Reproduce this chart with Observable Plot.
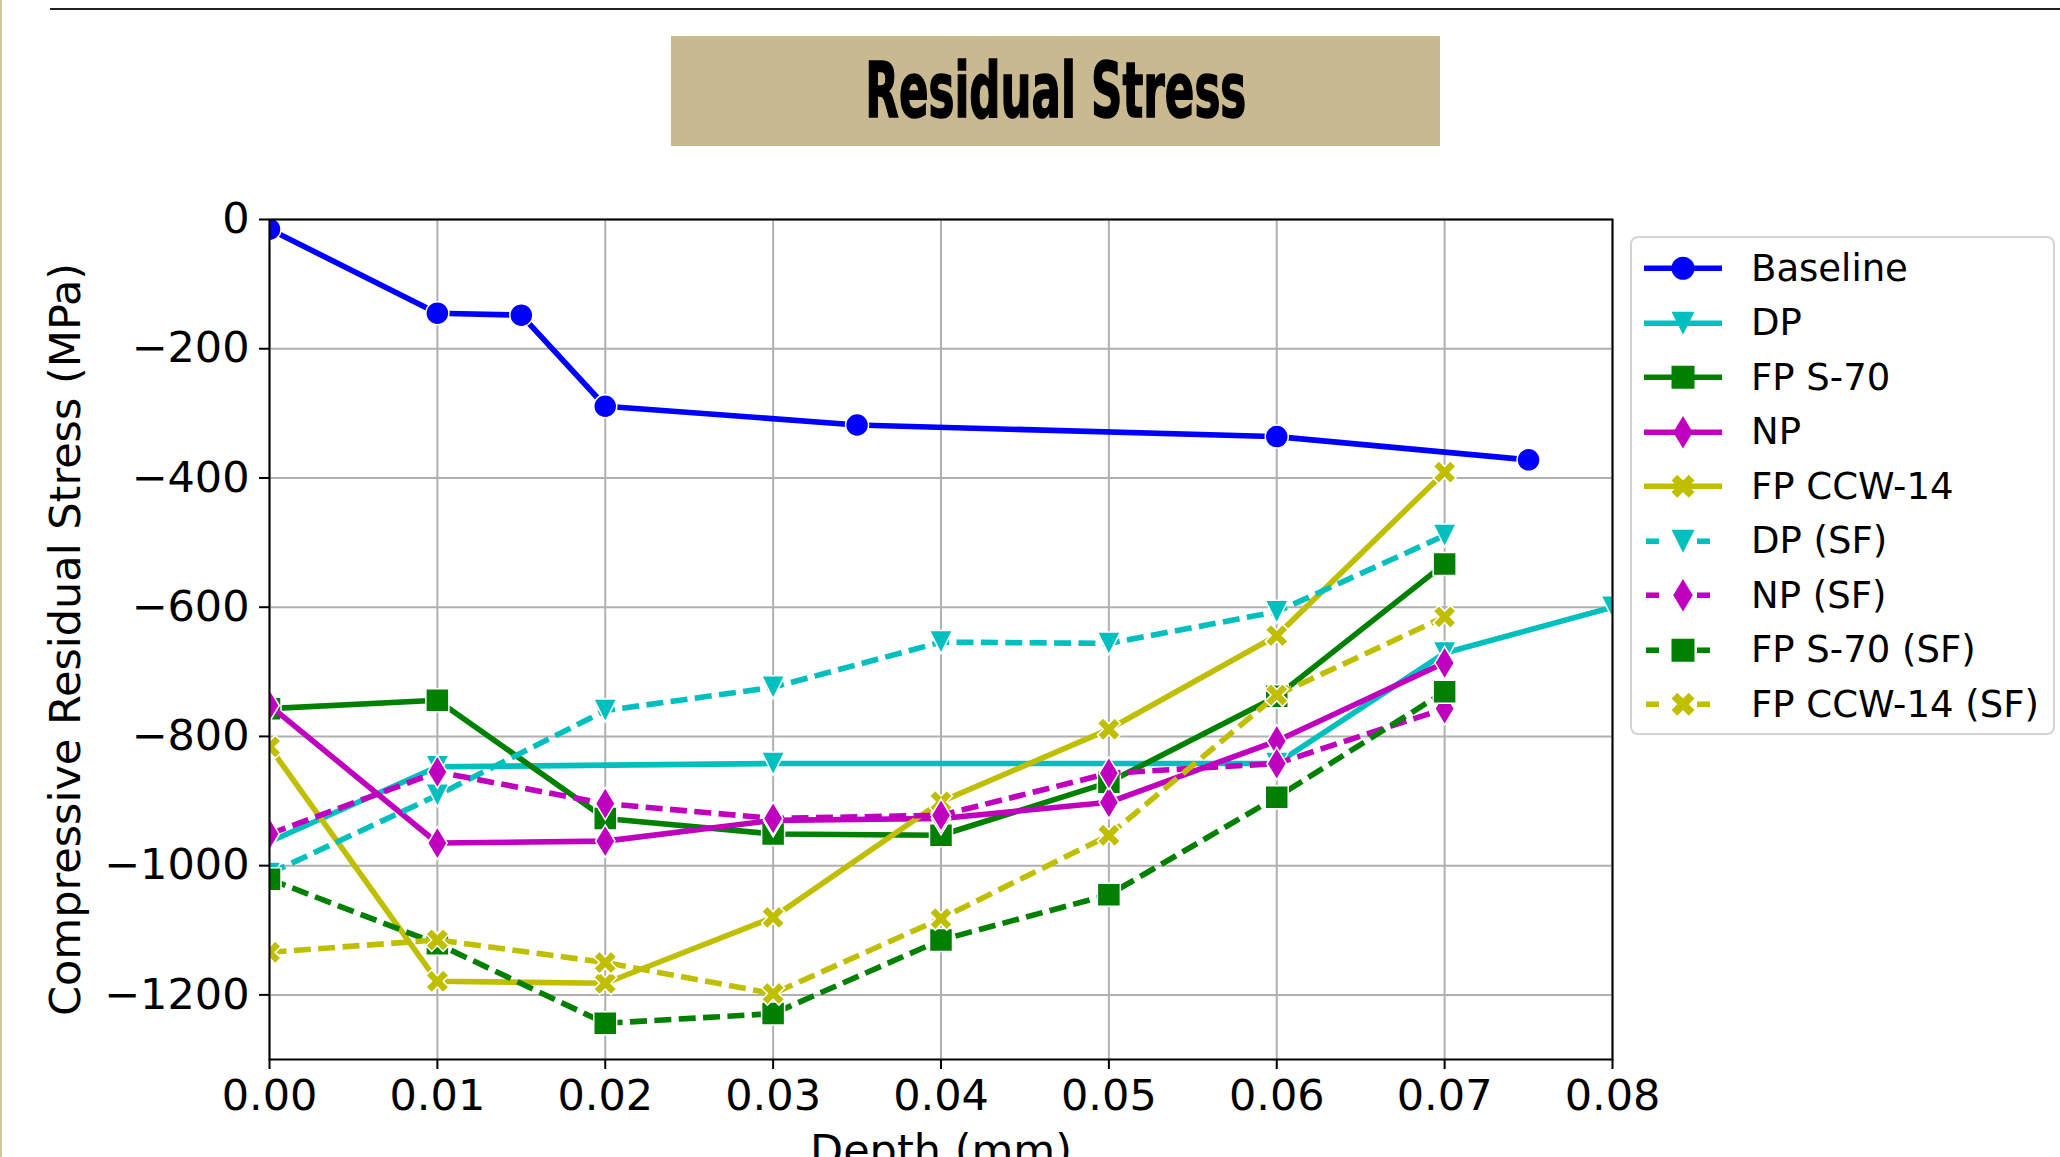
<!DOCTYPE html>
<html>
<head>
<meta charset="utf-8">
<script src="https://cdn.jsdelivr.net/npm/d3@7"></script>
<script src="https://cdn.jsdelivr.net/npm/@observablehq/plot@0.6"></script>
<style>
html, body { margin: 0; padding: 0; background: #fff; overflow: hidden; width: 2060px; height: 1157px; }
body { position: relative; font-family: "DejaVu Sans", sans-serif; }
#leftbar { position: absolute; left: 0; top: 0; width: 2px; height: 1157px; background: #d6c7a3; z-index: 5; }
#topline { position: absolute; left: 50px; top: 8px; width: 2010px; height: 2px; background: #222; }
#header { position: relative; height: 180px; }
#titlebox { position: absolute; left: 671px; top: 36px; width: 769px; height: 110px; background: #c8b991;
  display: flex; align-items: center; justify-content: center; overflow: hidden; }
#title { display: inline-block; font-family: "DejaVu Sans Condensed", "Liberation Sans Narrow", "DejaVu Sans", sans-serif;
  font-weight: bold; font-size: 76px; line-height: 1; color: #000; white-space: nowrap; transform-origin: center;
  -webkit-text-stroke: 1.5px #000; }
#chart { position: absolute; left: 0; top: 180px; }
#legend { position: absolute; left: 1630px; top: 236px; width: 425px; height: 499px; box-sizing: border-box;
  border: 2px solid #d4d4d4; border-radius: 8px; background: rgba(255,255,255,0.85); padding-top: 3px; z-index: 4; }
.lrow { position: relative; height: 54.5px; display: flex; align-items: center; }
.lrow svg { position: absolute; left: 0; top: 0; }
.lrow span { position: absolute; left: 119px; font-size: 37px; color: #000; white-space: nowrap; }
</style>
</head>
<body>
<div id="leftbar"></div>
<div id="header">
  <div id="topline"></div>
  <div id="titlebox"><span id="title">Residual Stress</span></div>
</div>
<div id="chart"></div>
<div id="legend"></div>
<script>
// ---------- data ----------
const seriesNames = ["Baseline", "DP", "FP S-70", "NP", "FP CCW-14", "DP (SF)", "NP (SF)", "FP S-70 (SF)", "FP CCW-14 (SF)"];

const depthBaseline  = [0, 0.01, 0.015, 0.02, 0.035, 0.06, 0.075];
const stressBaseline = [-15, -145, -148, -289, -318, -336, -372];

const depthDP  = [0, 0.01, 0.03, 0.06, 0.07, 0.08];
const stressDP = [-963, -847, -842, -842, -671, -600];

const depthFPS70  = [0, 0.01, 0.02, 0.03, 0.04, 0.05, 0.06, 0.07];
const stressFPS70 = [-757, -744, -927, -951, -953, -871, -738, -533];

const depthNP  = [0, 0.01, 0.02, 0.03, 0.04, 0.05, 0.06, 0.07];
const stressNP = [-752, -965, -962, -930, -927, -902, -807, -686];

const depthFPCCW  = [0, 0.01, 0.02, 0.03, 0.04, 0.05, 0.06, 0.07];
const stressFPCCW = [-816, -1179, -1182, -1080, -901, -789, -644, -391];

const depthDPSF  = [0, 0.01, 0.02, 0.03, 0.04, 0.05, 0.06, 0.07];
const stressDPSF = [-1012, -891, -760, -724, -654, -656, -607, -489];

const depthNPSF  = [0, 0.01, 0.02, 0.03, 0.04, 0.05, 0.06, 0.07];
const stressNPSF = [-951, -855, -904, -927, -922, -857, -842, -757];

const depthFPS70SF  = [0, 0.01, 0.02, 0.03, 0.04, 0.05, 0.06, 0.07];
const stressFPS70SF = [-1021, -1121, -1244, -1229, -1115, -1045, -894, -731];

const depthFPCCWSF  = [0, 0.01, 0.02, 0.03, 0.04, 0.05, 0.06, 0.07];
const stressFPCCWSF = [-1134, -1115, -1150, -1198, -1082, -953, -736, -615];

const xTicks = [0, 0.01, 0.02, 0.03, 0.04, 0.05, 0.06, 0.07, 0.08];
const yTicks = [-1200, -1000, -800, -600, -400, -200, 0];

// ---------- styles ----------
const seriesDepths   = [depthBaseline, depthDP, depthFPS70, depthNP, depthFPCCW, depthDPSF, depthNPSF, depthFPS70SF, depthFPCCWSF];
const seriesStresses = [stressBaseline, stressDP, stressFPS70, stressNP, stressFPCCW, stressDPSF, stressNPSF, stressFPS70SF, stressFPCCWSF];
const seriesColors = ["#0000ff", "#00bfbf", "#008000", "#bf00bf", "#bfbf00", "#00bfbf", "#bf00bf", "#008000", "#bfbf00"];
const seriesDashed = [false, false, false, false, false, true, true, true, true];
const seriesMarker = ["o", "v", "s", "d", "X", "v", "d", "s", "X"];

// custom symbols (matplotlib-like), size = pi*r^2
const rad = s => Math.sqrt(s / Math.PI);
const symbols = {
  o: { draw(c, s) { const r = rad(s); c.moveTo(r, 0); c.arc(0, 0, r, 0, 2 * Math.PI); c.closePath(); } },
  s: { draw(c, s) { const r = rad(s); c.rect(-r, -r, 2 * r, 2 * r); } },
  v: { draw(c, s) { const r = rad(s); c.moveTo(0, r); c.lineTo(-r, -r); c.lineTo(r, -r); c.closePath(); } },
  d: { draw(c, s) { const r = rad(s); const h = r * 1.414, w = h * 0.6; c.moveTo(0, -h); c.lineTo(w, 0); c.lineTo(0, h); c.lineTo(-w, 0); c.closePath(); } },
  X: { draw(c, s) { const m = 2 * rad(s);
    const pts = [[0.25,0],[0.5,0.25],[0.75,0],[1,0.25],[0.75,0.5],[1,0.75],[0.75,1],[0.5,0.75],[0.25,1],[0,0.75],[0.25,0.5],[0,0.25]];
    pts.forEach(([x, y], i) => { const px = (x - 0.5) * m, py = (y - 0.5) * m; if (i === 0) c.moveTo(px, py); else c.lineTo(px, py); });
    c.closePath(); } }
};

const markerR = 11.5;
const lineW = 5.6;

const marks = [
  Plot.gridX(xTicks, {stroke: "#b0b0b0", strokeOpacity: 1, strokeWidth: 2}),
  Plot.gridY(yTicks, {stroke: "#b0b0b0", strokeOpacity: 1, strokeWidth: 2})
];

seriesNames.forEach((name, k) => {
  const rows = seriesDepths[k].map((d, i) => ({depth: d, stress: seriesStresses[k][i], series: name}));
  marks.push(Plot.line(rows, {
    x: "depth", y: "stress", stroke: seriesColors[k], strokeWidth: lineW,
    strokeDasharray: seriesDashed[k] ? "17,7.4" : null,
    strokeLinecap: seriesDashed[k] ? "butt" : "square", strokeLinejoin: "round",
    clip: "frame"
  }));
  marks.push(Plot.dot(rows, {
    x: "depth", y: "stress", r: markerR, symbol: symbols[seriesMarker[k]],
    fill: seriesColors[k], stroke: "white", strokeWidth: 1.5, clip: "frame"
  }));
});

marks.push(
  Plot.frame({stroke: "black", strokeWidth: 2}),
  Plot.axisX({ticks: xTicks, tickFormat: d3.format(".2f"), tickSize: 10, tickPadding: 10, strokeWidth: 2, fontSize: 43, label: null}),
  Plot.axisY({ticks: yTicks, tickFormat: d3.format("d"), tickSize: 10, tickPadding: 10, strokeWidth: 2, fontSize: 43, label: null}),
  Plot.axisX({ticks: [], tickSize: 0, label: "Depth (mm)", labelAnchor: "center", labelOffset: 105, labelArrow: "none", fontSize: 43}),
  Plot.axisY({ticks: [], tickSize: 0, label: "Compressive Residual Stress (MPa)", labelAnchor: "center", labelOffset: 220, labelArrow: "none", fontSize: 43})
);

const chart = Plot.plot({
  width: 2060,
  height: 1000,
  marginLeft: 269,
  marginRight: 448,
  marginTop: 39,
  marginBottom: 121,
  x: {domain: [0, 0.08]},
  y: {domain: [-1300, 0]},
  style: {fontFamily: "DejaVu Sans, sans-serif", fontSize: "43px", color: "black", background: "white", overflow: "visible"},
  marks
});
document.getElementById("chart").appendChild(chart);

// ---------- legend ----------
const legend = document.getElementById("legend");
seriesNames.forEach((name, k) => {
  const row = document.createElement("div");
  row.className = "lrow";
  const ns = "http://www.w3.org/2000/svg";
  const svg = document.createElementNS(ns, "svg");
  svg.setAttribute("width", 110); svg.setAttribute("height", 54.5);
  const cy = 27.25, cx = 51;
  const seg = (x1, x2) => {
    const l = document.createElementNS(ns, "line");
    l.setAttribute("x1", x1); l.setAttribute("x2", x2); l.setAttribute("y1", cy); l.setAttribute("y2", cy);
    l.setAttribute("stroke", seriesColors[k]); l.setAttribute("stroke-width", lineW);
    svg.appendChild(l);
  };
  if (seriesDashed[k]) { seg(14, 27); seg(65, 78); } else { seg(12, 90); }
  const p = d3.path();
  symbols[seriesMarker[k]].draw(p, Math.PI * markerR * markerR);
  const path = document.createElementNS(ns, "path");
  path.setAttribute("d", p.toString());
  path.setAttribute("transform", `translate(${cx},${cy})`);
  path.setAttribute("fill", seriesColors[k]);
  svg.appendChild(path);
  row.appendChild(svg);
  const t = document.createElement("span");
  t.textContent = name;
  row.appendChild(t);
  legend.appendChild(row);
});

// ---------- title fit ----------
function fitTitle() {
  const t = document.getElementById("title");
  t.style.transform = "none";
  const w = t.getBoundingClientRect().width;
  t.style.transform = `scaleX(${381 / w})`;
}
fitTitle();
if (document.fonts && document.fonts.ready) document.fonts.ready.then(fitTitle);
</script>
</body>
</html>
